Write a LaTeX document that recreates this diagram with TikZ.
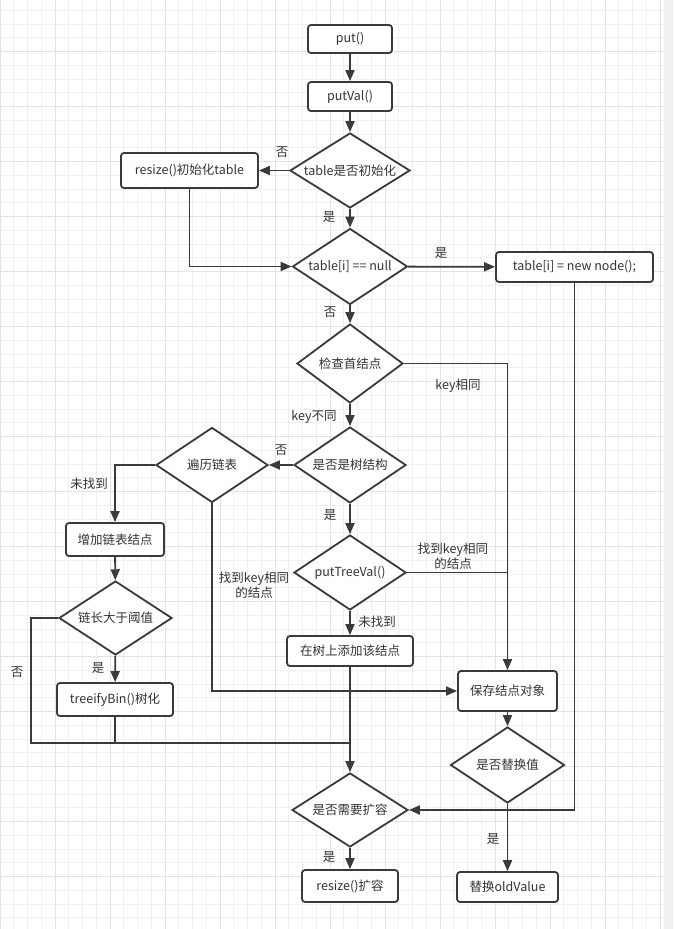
\documentclass[tikz,border=0pt]{standalone}
\usepackage{fontspec}
\setmainfont{Noto Sans CJK SC}
\usetikzlibrary{arrows.meta, shapes.geometric}
\usepackage{xcolor}
\definecolor{flowline}{HTML}{3A3A3A}
\definecolor{flowtext}{HTML}{333333}
\definecolor{gridminor}{HTML}{F0F0F0}
\definecolor{gridmajor}{HTML}{E3E3E3}
\definecolor{stripgray}{HTML}{F0F0F0}

\begin{document}
\begin{tikzpicture}[x=1pt, y=-1pt,
      font=\fontsize{12.5}{15}\selectfont,
      box/.style={rectangle, rounded corners=3pt, draw=flowline, line width=1.8pt, fill=white, text=flowtext, inner sep=0pt, align=center},
      dec/.style={diamond, aspect=1.5, draw=flowline, line width=1.8pt, fill=white, text=flowtext, inner sep=0pt, align=center},
      lbl/.style={text=flowtext, align=center, inner sep=0pt},
      line/.style={flowline, line width=1.8pt},
      arrow/.style={-{Triangle[length=11pt, width=9pt]}, flowline, line width=1.8pt},
    ]
    \useasboundingbox (0,0) rectangle (673,929);
    \fill[white] (0,0) rectangle (673,929);
    \fill[stripgray] (664,0) rectangle (673,929);
    \foreach \i in {0,...,48} \draw[gridminor, line width=1pt] (\i*13.75,0) -- (\i*13.75,929);
    \foreach \j in {0,...,66} \draw[gridminor, line width=1pt] (0,10.45+\j*13.75) -- (664,10.45+\j*13.75);
    \foreach \i in {0,...,12} \draw[gridmajor, line width=1pt] (\i*55,0) -- (\i*55,929);
    \foreach \j in {0,...,15} \draw[gridmajor, line width=1pt] (0,51.7+\j*55) -- (664,51.7+\j*55);

    \node[box, minimum width=84, minimum height=28] (put) at (350,39) {put()};
    \node[box, minimum width=84, minimum height=29] (pv) at (350,96.5) {putVal()};
    \node[dec, minimum width=120, minimum height=75] (init) at (350,170.5) {table是否初始化};
    \node[box, minimum width=137, minimum height=35] (rsz) at (189.5,170.5) {resize()初始化table};
    \node[dec, minimum width=115, minimum height=76] (nul) at (350,266.5) {table[i] == null};
    \node[box, minimum width=157, minimum height=30] (newn) at (574.5,267) {table[i] = new node();};
    \node[dec, minimum width=106, minimum height=79] (head) at (350,363.5) {检查首结点};
    \node[dec, minimum width=112, minimum height=76] (tree) at (350,465) {是否是树结构};
    \node[dec, minimum width=112, minimum height=75] (lst) at (212,465) {遍历链表};
    \node[box, minimum width=98, minimum height=33] (add) at (115,539.5) {增加链表结点};
    \node[dec, minimum width=113, minimum height=74] (lim) at (115.5,618) {链长大于阈值};
    \node[box, minimum width=116, minimum height=33] (tfy) at (115,699.5) {treeifyBin()树化};
    \node[dec, minimum width=112, minimum height=75] (ptv) at (350,572.5) {putTreeVal()};
    \node[box, minimum width=126, minimum height=30] (addt) at (350,651) {在树上添加该结点};
    \node[box, minimum width=99, minimum height=40] (save) at (507.5,691) {保存结点对象};
    \node[dec, minimum width=114, minimum height=76] (rep) at (507.5,765) {是否替换值};
    \node[box, minimum width=101, minimum height=30] (old) at (507.5,887) {替换oldValue};
    \node[dec, minimum width=116, minimum height=74] (exp) at (350,810) {是否需要扩容};
    \node[box, minimum width=96, minimum height=32] (rsz2) at (350,886) {resize()扩容};
    \coordinate (jn) at (350,743);

    \draw[arrow] (put) -- (pv);
    \draw[arrow] (pv) -- (init);
    \draw[arrow] (init) -- (rsz);
    \draw[arrow] (init) -- (nul);
    \draw[arrow] (rsz.south) |- (nul.west);
    \draw[arrow] (nul) -- (newn);
    \draw[arrow] (nul) -- (head);
    \draw[arrow] (head.east) -| (save.north);
    \draw[arrow] (head) -- (tree);
    \draw[arrow] (tree) -- (lst);
    \draw[arrow] (tree) -- (ptv);
    \draw[arrow] (lst.west) -| (add.north);
    \draw[arrow] (add) -- (lim);
    \draw[arrow] (lim) -- (tfy);
    \draw[line] (lim.west) -- ++(-27,0) |- (jn);
    \draw[line] (tfy.south) |- (jn);
    \draw[arrow] (lst.south) |- (save.west);
    \draw[line] (ptv.east) -- (ptv.east -| save.north);
    \draw[arrow] (ptv) -- (addt);
    \draw[arrow] (addt) -- (exp);
    \draw[arrow] (save) -- (rep);
    \draw[arrow] (rep) -- (old);
    \draw[arrow] (newn.south) |- (exp.east);
    \draw[arrow] (exp) -- (rsz2);

    \node[lbl] (n1) at (282,152) {否};
    \node[lbl] (y1) at (329,217) {是};
    \node[lbl] (y2) at (441,253) {是};
    \node[lbl] (n2) at (330,312) {否};
    \node[lbl] (ks) at (458,386) {key相同};
    \node[lbl] (kd) at (314,417) {key不同};
    \node[lbl] (n3) at (281,450) {否};
    \node[lbl] (y3) at (330,515) {是};
    \node[lbl] (nf1) at (89,484) {未找到};
    \node[lbl] (fk1) at (254,585) {找到key相同\\的结点};
    \node[lbl] (fk2) at (453,556) {找到key相同\\的结点};
    \node[lbl] (nf2) at (377,622) {未找到};
    \node[lbl] (n4) at (17,672) {否};
    \node[lbl] (y4) at (98,668) {是};
    \node[lbl] (y5) at (493,839) {是};
    \node[lbl] (y6) at (329,857) {是};
  \end{tikzpicture}
\end{document}
